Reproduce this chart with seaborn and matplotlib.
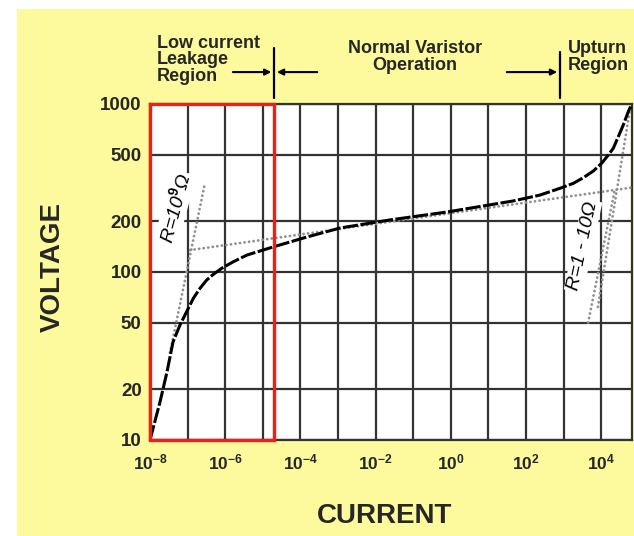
import matplotlib
matplotlib.use('Agg')
import matplotlib.pyplot as plt
import seaborn as sns
from matplotlib.patches import Rectangle

# V-I curve of a metal oxide varistor
current = [1e-8, 1.84e-8, 2.83e-8, 4.09e-8, 6.28e-8, 9.46e-8, 1.42e-7, 2.14e-7,
           3.22e-7, 4.83e-7, 8.07e-7, 1.61e-6, 3.8e-6, 1.87e-5, 1.5e-4, 1.13e-3,
           0.0242, 0.793, 45, 235, 802, 1810, 3340, 6170, 10300, 15450, 21000,
           28500, 38700, 52600, 65000]
voltage = [10, 16.8, 25.4, 38.3, 48.4, 58.1, 69.7, 80, 89.6, 96.8, 105.2, 114.8,
           126.2, 140.9, 161.6, 182.7, 204.2, 227.6, 264.6, 287, 315, 337, 364,
           399, 444, 497, 545, 638, 750, 900, 1000]

# dotted resistance lines
leak_fit_current = [3.4e-8, 2.9e-7]
leak_fit_voltage = [33, 339]
normal_fit_current = [1.16e-7, 6.5e4]
normal_fit_voltage = [135, 318]
upturn_fit1_current = [4.5e3, 2.3e4]
upturn_fit1_voltage = [50, 308]
upturn_fit2_current = [8.2e3, 5.8e4]
upturn_fit2_voltage = [62, 920]

x_ticks = [1e-8, 1e-7, 1e-6, 1e-5, 1e-4, 1e-3, 1e-2, 1e-1, 1e0, 1e1, 1e2, 1e3, 1e4]
x_tick_labels = ['$10^{-8}$', '', '$10^{-6}$', '', '$10^{-4}$', '', '$10^{-2}$', '',
                 '$10^{0}$', '', '$10^{2}$', '', '$10^{4}$']
y_ticks = [10, 20, 50, 100, 200, 500, 1000]
y_tick_labels = ['10', '20', '50', '100', '200', '500', '1000']

leakage_edge = 2.0e-5
upturn_edge = 800
region_labels = ['Low current\nLeakage\nRegion', 'Normal Varistor\nOperation', 'Upturn\nRegion']

sns.set_style('white')
plt.rcParams['font.family'] = ['Liberation Sans', 'DejaVu Sans']
plt.rcParams['font.weight'] = 'bold'
plt.rcParams['mathtext.fontset'] = 'custom'
plt.rcParams['mathtext.rm'] = 'Liberation Sans:bold'
plt.rcParams['mathtext.it'] = 'Liberation Sans:bold:italic'
plt.rcParams['mathtext.bf'] = 'Liberation Sans:bold'

yellow = '#fcfa9c'
grid_col = '#333333'
red = '#e3241b'

fig = plt.figure(figsize=(6.34, 5.36), dpi=100, facecolor='white')
fig.add_artist(Rectangle((17 / 634, 0), 1, 527 / 536, transform=fig.transFigure,
                         facecolor=yellow, edgecolor='none', zorder=0))
ax = fig.add_axes([150 / 634, 96 / 536, 482 / 634, 336 / 536])
ax.set_facecolor('white')

dots = dict(color='#8f8f8f', lw=2.0, linestyle=(0, (0.05, 1.6)), dash_capstyle='round',
            estimator=None, sort=False, zorder=3)
sns.lineplot(x=leak_fit_current, y=leak_fit_voltage, ax=ax, **dots)
sns.lineplot(x=normal_fit_current, y=normal_fit_voltage, ax=ax, **dots)
sns.lineplot(x=upturn_fit1_current, y=upturn_fit1_voltage, ax=ax, **dots)
sns.lineplot(x=upturn_fit2_current, y=upturn_fit2_voltage, ax=ax, **dots)

sns.lineplot(x=current, y=voltage, ax=ax, color='black', lw=2.2,
             linestyle=(0, (5, 0.8)), estimator=None, sort=False, zorder=4)

ax.set_xscale('log')
ax.set_yscale('log')
ax.set_xlim(1e-8, 10 ** 4.82)
ax.set_ylim(10, 1000)
ax.set_xticks(x_ticks)
ax.set_xticklabels(x_tick_labels, fontsize=12.5)
ax.set_yticks(y_ticks)
ax.set_yticklabels(y_tick_labels, fontsize=13.5, fontweight='bold')
ax.minorticks_off()
ax.tick_params(length=0)
ax.tick_params(axis='y', pad=6)
ax.tick_params(axis='x', pad=9)
ax.grid(True, color=grid_col, lw=1.6)
ax.set_axisbelow(True)
for s in ax.spines.values():
    s.set_color(grid_col)
    s.set_linewidth(1.6)

ax.set_xlabel('CURRENT', fontsize=20, fontweight='bold')
ax.set_ylabel('VOLTAGE', fontsize=20, fontweight='bold')
ax.xaxis.set_label_coords(0.4876, -0.1875)
ax.yaxis.set_label_coords(-0.175, 0.515)

# leakage region box
ax.axvspan(1e-8, leakage_edge, fill=False, edgecolor=red, lw=2.4, zorder=5, clip_on=False)

# resistance annotations
box = dict(facecolor='white', edgecolor='none', pad=1)
ax.text(4.6e-8, 240, 'R=10$^{9}$Ω', rotation=75, fontsize=14, fontstyle='italic',
        fontweight='normal', color='black', ha='center', va='center', bbox=box, zorder=3.5)
ax.text(3300, 143, 'R=1 - 10Ω', rotation=78, fontsize=14, fontstyle='italic',
        fontweight='normal', color='black', ha='center', va='center', bbox=box, zorder=3.5)

# region headers
tr = ax.get_xaxis_transform()
ax.text(0.0145, 1.205, region_labels[0], transform=ax.transAxes, ha='left', va='top',
        fontsize=13, fontweight='bold', linespacing=0.95)
ax.text(0.5498, 1.19, region_labels[1], transform=ax.transAxes, ha='center', va='top',
        fontsize=13, fontweight='bold', linespacing=0.95)
ax.text(0.867, 1.19, region_labels[2], transform=ax.transAxes, ha='left', va='top',
        fontsize=13, fontweight='bold', linespacing=0.95)

ax.plot([leakage_edge, leakage_edge], [1.018, 1.167], transform=tr, color='black',
        lw=1.6, clip_on=False)
ax.plot([upturn_edge, upturn_edge], [1.018, 1.155], transform=tr, color='black',
        lw=1.6, clip_on=False)
arrow = dict(arrowstyle='-|>', color='black', lw=1.5, mutation_scale=9, shrinkA=0, shrinkB=2)
ax.annotate('', xy=(leakage_edge, 1.095), xytext=(1.6e-6, 1.095), xycoords=tr,
            textcoords=tr, arrowprops=arrow)
ax.annotate('', xy=(leakage_edge, 1.095), xytext=(2.8e-4, 1.095), xycoords=tr,
            textcoords=tr, arrowprops=arrow)
ax.annotate('', xy=(upturn_edge, 1.095), xytext=(31, 1.095), xycoords=tr,
            textcoords=tr, arrowprops=arrow)

fig.savefig('out.png', dpi=100, facecolor=fig.get_facecolor())
